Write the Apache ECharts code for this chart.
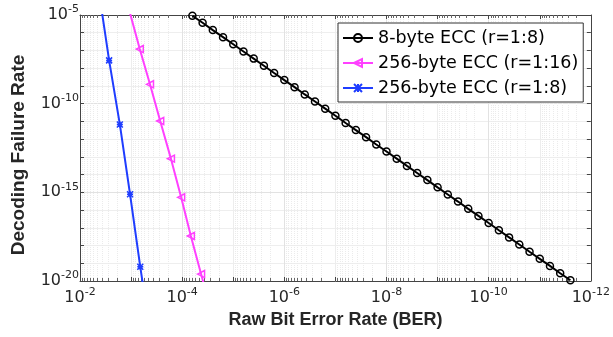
<!DOCTYPE html>
<html>
<head>
<meta charset="utf-8">
<script src="https://cdn.jsdelivr.net/npm/echarts@6/dist/echarts.min.js"></script>
<style>
  html, body { margin: 0; padding: 0; background: #fff; }
  #chart { width: 613px; height: 337px; }
</style>
</head>
<body>
<div id="chart"></div>
<script>
// values, as powers of ten
const ber8Exp = [-4.2, -4.4, -4.6, -4.8, -5.0, -5.2, -5.4, -5.6, -5.8, -6.0, -6.2, -6.4, -6.6, -6.8, -7.0, -7.2, -7.4, -7.6, -7.8,
  -8.0, -8.2, -8.4, -8.6, -8.8, -9.0, -9.2, -9.4, -9.6, -9.8, -10.0, -10.2, -10.4, -10.6, -10.8, -11.0, -11.2, -11.4, -11.6]
const dfr8Exp = [-5.04, -5.44, -5.85, -6.25, -6.65, -7.06, -7.46, -7.86, -8.27, -8.67, -9.07, -9.48, -9.88, -10.28, -10.68, -11.09,
  -11.49, -11.89, -12.30, -12.70, -13.10, -13.51, -13.91, -14.31, -14.72, -15.12, -15.52, -15.93, -16.33, -16.73, -17.14, -17.54,
  -17.94, -18.35, -18.75, -19.15, -19.56, -19.96]
const ber256r16Exp = [-2.97, -3.17, -3.37, -3.57, -3.78, -3.98, -4.17, -4.37, -4.57]
const dfr256r16Exp = [-4.80, -6.92, -8.91, -10.98, -13.10, -15.28, -17.46, -19.61, -21.70]
const ber256r8Exp = [-2.37, -2.57, -2.78, -2.98, -3.18, -3.38]
const dfr256r8Exp = [-3.68, -7.56, -11.17, -15.11, -19.20, -23.08]

const seriesNames = ["8-byte ECC (r=1:8)", "256-byte ECC (r=1:16)", "256-byte ECC (r=1:8)"]
const colors = ["#000000", "#ff40ff", "#1f3dff"]

const toPoints = (xs, ys) => xs.map((x, i) => [Math.pow(10, x), Math.pow(10, ys[i])])

const chart = echarts.init(document.getElementById("chart"))

// only every 2nd decade on x and every 5th on y gets a label
const tickLabel = (step) => (v) => {
  const e = Math.round(Math.log10(v))
  return e % step === 0 ? "{a|10}{b|" + e + "}" : ""
}
const labelRich = {
  a: { fontFamily: "DejaVu Sans", fontSize: 16, lineHeight: 16, color: "#262626", verticalAlign: "bottom" },
  b: { fontFamily: "DejaVu Sans", fontSize: 11, lineHeight: 11, color: "#262626", verticalAlign: "bottom", padding: [2, 0, 8, 0] },
}

const axisColor = "#444"

const xBase = {
  type: "log",
  logBase: 10,
  min: 1e-12,
  max: 1e-2,
  interval: 1,
  inverse: true,
  axisLine: { show: true, lineStyle: { color: axisColor, width: 1 } },
  axisTick: { show: true, inside: true, length: 4, lineStyle: { color: axisColor } },
  minorTick: { show: true, splitNumber: 10, length: 3, lineStyle: { color: "#666" } },
}

const yBase = {
  type: "log",
  logBase: 10,
  min: 1e-20,
  max: 1e-5,
  interval: 1,
  axisLine: { show: true, lineStyle: { color: axisColor, width: 1 } },
  axisTick: { show: true, inside: true, length: 4, lineStyle: { color: axisColor } },
  minorTick: { show: false },
}

const option = {
  animation: false,
  grid: { left: 80, right: 22, top: 15, bottom: 56 },
  legend: {
    orient: "vertical",
    left: 338,
    top: 23,
    padding: [6, 5, 5, 4],
    backgroundColor: "#fff",
    borderColor: "#333",
    borderWidth: 1,
    itemWidth: 30,
    itemHeight: 10,
    itemGap: 7,
    textStyle: { fontFamily: "DejaVu Sans", fontSize: 17.5, color: "#000" },
    data: seriesNames,
  },
  xAxis: [
    {
      ...xBase,
      position: "bottom",
      name: "Raw Bit Error Rate (BER)",
      nameLocation: "middle",
      nameGap: 30,
      nameTextStyle: { fontFamily: "Liberation Sans", fontWeight: "bold", fontSize: 18, color: "#262626" },
      axisLabel: { margin: 9, interval: 0, formatter: tickLabel(2), rich: labelRich },
      splitLine: { show: true, lineStyle: { color: ["#e2e2e2", "#ededed"], width: 1 } },
      minorSplitLine: { show: true, lineStyle: { color: "#ebebeb", width: 1, type: "dotted" } },
    },
    {
      ...xBase,
      position: "top",
      axisLabel: { show: false },
      splitLine: { show: false },
      minorSplitLine: { show: false },
    },
  ],
  yAxis: [
    {
      ...yBase,
      position: "left",
      name: "Decoding Failure Rate",
      nameLocation: "middle",
      nameGap: 52,
      nameTextStyle: { fontFamily: "Liberation Sans", fontWeight: "bold", fontSize: 19, color: "#262626", padding: [0, 14, 0, 0] },
      axisLabel: { margin: 1, interval: 0, formatter: tickLabel(5), rich: labelRich },
      splitLine: { show: true, lineStyle: { color: ["#e2e2e2", "#eeeeee", "#eeeeee", "#eeeeee", "#eeeeee"], width: 1 } },
    },
    {
      ...yBase,
      position: "right",
      axisLabel: { show: false },
      splitLine: { show: false },
    },
  ],
  series: [
    {
      name: seriesNames[0],
      type: "line",
      data: toPoints(ber8Exp, dfr8Exp),
      symbol: "circle",
      symbolSize: 7,
      clip: true,
      lineStyle: { color: colors[0], width: 2 },
      itemStyle: { color: "rgba(0,0,0,0)", borderColor: colors[0], borderWidth: 1.5 },
    },
    {
      name: seriesNames[1],
      type: "line",
      data: toPoints(ber256r16Exp, dfr256r16Exp),
      symbol: "triangle",
      symbolRotate: 90,
      symbolSize: 7,
      clip: true,
      lineStyle: { color: colors[1], width: 2 },
      itemStyle: { color: "rgba(0,0,0,0)", borderColor: colors[1], borderWidth: 1.5 },
    },
    {
      name: seriesNames[2],
      type: "line",
      data: toPoints(ber256r8Exp, dfr256r8Exp),
      symbol: "path://M0,0L10,10M10,0L0,10M0,5L10,5M5,0L5,10",
      symbolSize: 6,
      clip: true,
      lineStyle: { color: colors[2], width: 2 },
      itemStyle: { color: "rgba(0,0,0,0)", borderColor: colors[2], borderWidth: 1.5 },
    },
  ],
}

chart.setOption(option)
</script>
</body>
</html>
